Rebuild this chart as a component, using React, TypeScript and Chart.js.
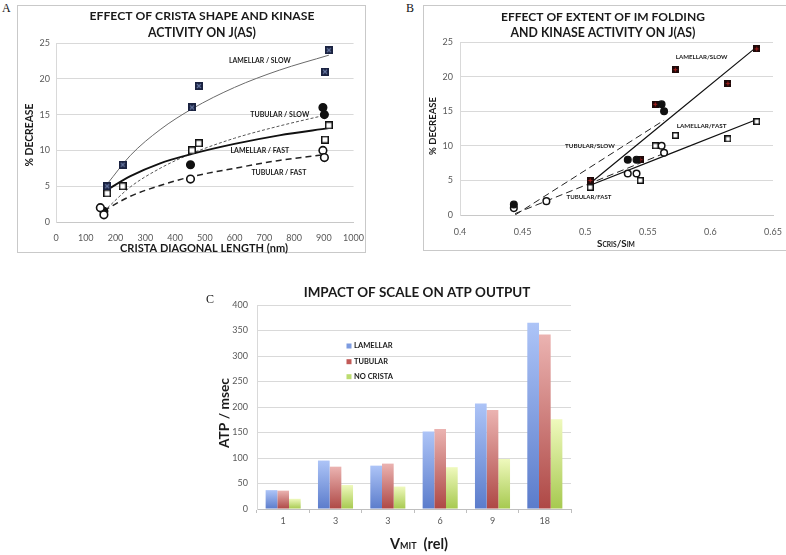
import React, { useEffect, useRef } from 'react';
import { Chart, registerables } from 'chart.js';
Chart.register(...registerables);

// ---------- Panel A data ----------
const A_LAM_X = [172, 224, 457, 480, 904, 917];
const A_LAM_SLOW_Y = [5, 8, 16, 19, 21, 24];
const A_LAM_FAST_Y = [4, 5, 10, 11, 11.5, 13.5];
const A_TUB_SLOW_X = [161, 452, 897, 902];
const A_TUB_SLOW_Y = [1.5, 8, 16, 15];
const A_TUB_FAST_X = [149, 161, 452, 897, 902];
const A_TUB_FAST_Y = [2, 1, 6, 10, 9];
// trend curves
const A_FIT_LAM_X = [172, 250, 350, 457, 600, 750, 917];
const A_FIT_LAM_SLOW = [5.3, 9.3, 12.9, 15.8, 18.8, 21.2, 23.3];
const A_FIT_LAM_FAST = [4.5, 6.4, 8.2, 9.5, 10.9, 12.1, 13.1];
const A_FIT_TUB_X = [161, 250, 350, 452, 600, 750, 902];
const A_FIT_TUB_SLOW = [1.5, 4.9, 7.5, 9.5, 11.7, 13.4, 14.9];
const A_FIT_TUB_FAST = [1.6, 3.6, 5.1, 6.3, 7.5, 8.6, 9.4];
const A_X_TICKS = [0, 100, 200, 300, 400, 500, 600, 700, 800, 900, 1000];
const A_Y_TICKS = [0, 5, 10, 15, 20, 25];

// ---------- Panel B data ----------
const B_LAM_X = [0.504, 0.544, 0.556, 0.572, 0.614, 0.637];
const B_LAM_SLOW_Y = [5, 8, 16, 21, 19, 24];
const B_LAM_FAST_Y = [4, 5, 10, 11.5, 11, 13.5];
const B_TUB_SLOW_X = [0.443, 0.534, 0.541, 0.561, 0.563];
const B_TUB_SLOW_Y = [1.5, 8, 8, 16, 15];
const B_TUB_FAST_X = [0.443, 0.469, 0.534, 0.541, 0.561, 0.563];
const B_TUB_FAST_Y = [1, 2, 6, 6, 10, 9];
const B_FIT_LAM_X = [0.504, 0.637];
const B_FIT_LAM_SLOW = [4.6, 24.3];
const B_FIT_LAM_FAST = [4.3, 13.8];
const B_FIT_TUB_X = [0.444, 0.563];
const B_FIT_TUB_SLOW = [0, 13.7];
const B_FIT_TUB_FAST = [0.2, 8.9];
const B_X_TICKS = [0.4, 0.45, 0.5, 0.55, 0.6, 0.65];
const B_Y_TICKS = [0, 5, 10, 15, 20, 25];

// ---------- Panel C data ----------
const C_CATS = ['1', '3', '3', '6', '9', '18'];
const C_LAM = [37, 95, 85, 152, 207, 365];
const C_TUB = [36, 83, 89, 157, 194, 342];
const C_NOC = [20, 47, 44, 82, 98, 176];
const C_SERIES = ['LAMELLAR', 'TUBULAR', 'NO CRISTA'];
const C_Y_TICKS = [0, 50, 100, 150, 200, 250, 300, 350, 400];

const FONT = 'Lato';
const pts = (xs: number[], ys: number[]) => xs.map((x, i) => ({ x, y: ys[i] }));

type Item = { t: string; x: number; y: number; w: number; rot?: boolean; data?: boolean; align?: CanvasTextAlign; color?: string };

function drawItems(chart: any, items: Item[]) {
  const ctx: CanvasRenderingContext2D = chart.ctx;
  ctx.save();
  for (const it of items) {
    let x = it.x, y = it.y;
    if (it.data) {
      x = chart.scales.x.getPixelForValue(it.x);
      y = chart.scales.y.getPixelForValue(it.y);
    }
    ctx.font = `bold 100px ${FONT}`;
    const m = ctx.measureText(it.t).width;
    const size = (100 * it.w) / m;
    ctx.font = `bold ${size}px ${FONT}`;
    ctx.fillStyle = it.color || '#1a1a1a';
    ctx.textAlign = it.align || 'center';
    ctx.textBaseline = 'middle';
    if (it.rot) {
      ctx.save();
      ctx.translate(x, y);
      ctx.rotate(-Math.PI / 2);
      ctx.fillText(it.t, 0, 0);
      ctx.restore();
    } else ctx.fillText(it.t, x, y);
  }
  ctx.restore();
}

function drawMixed(ctx: CanvasRenderingContext2D, parts: { t: string; big: boolean }[], cx: number, cy: number, w: number, ratio: number) {
  ctx.save();
  let total = 0;
  for (const p of parts) {
    ctx.font = `bold ${p.big ? 100 : 100 * ratio}px ${FONT}`;
    total += ctx.measureText(p.t).width;
  }
  const big = (100 * w) / total;
  let x = cx - w / 2;
  const base = cy + big * 0.36;
  ctx.fillStyle = '#1a1a1a';
  ctx.textAlign = 'left';
  ctx.textBaseline = 'alphabetic';
  for (const p of parts) {
    ctx.font = `bold ${p.big ? big : big * ratio}px ${FONT}`;
    ctx.fillText(p.t, x, base);
    x += ctx.measureText(p.t).width;
  }
  ctx.restore();
}

function markSquare(size: number, fill: string, line: string | null, plus: boolean, stroke?: string) {
  const c = document.createElement('canvas');
  c.width = size;
  c.height = size;
  const g = c.getContext('2d')!;
  g.fillStyle = fill;
  g.fillRect(0, 0, size, size);
  if (stroke) {
    g.strokeStyle = stroke;
    g.lineWidth = 1.5;
    g.strokeRect(0.75, 0.75, size - 1.5, size - 1.5);
  }
  if (line) {
    g.strokeStyle = line;
    g.lineWidth = 1.2;
    g.beginPath();
    if (plus) {
      g.moveTo(size / 2, 1.5); g.lineTo(size / 2, size - 1.5);
      g.moveTo(1.5, size / 2); g.lineTo(size - 1.5, size / 2);
    } else {
      g.moveTo(2, 2); g.lineTo(size - 2, size - 2);
      g.moveTo(size - 2, 2); g.lineTo(2, size - 2);
    }
    g.stroke();
  }
  return c;
}

function scatterOpts(p: any) {
  return {
    animation: false,
    responsive: false,
    events: [],
    layout: { padding: { left: 0, right: p.padRight, top: p.padTop, bottom: 0 } },
    plugins: { legend: { display: false }, tooltip: { enabled: false } },
    scales: {
      x: {
        type: 'linear',
        min: p.xTicks[0],
        max: p.xTicks[p.xTicks.length - 1],
        afterBuildTicks: (s: any) => { s.ticks = p.xTicks.map((v: number) => ({ value: v })); },
        afterFit: (s: any) => { s.height = p.xHeight; },
        grid: { display: false },
        border: { display: true, color: '#c8c8c8' },
        ticks: {
          font: { family: FONT, size: 9 }, color: '#595959', padding: p.xPad,
          maxRotation: 0, autoSkip: false,
          callback: (v: number) => String(+Number(v).toFixed(2)),
        },
      },
      y: {
        type: 'linear',
        min: p.yTicks[0],
        max: p.yTicks[p.yTicks.length - 1],
        afterBuildTicks: (s: any) => { s.ticks = p.yTicks.map((v: number) => ({ value: v })); },
        afterFit: (s: any) => { s.width = p.yWidth; },
        grid: { color: '#d9d9d9', drawTicks: false },
        border: { display: true, color: '#d9d9d9' },
        ticks: { font: { family: FONT, size: 9 }, color: '#595959', padding: p.yPad },
      },
    },
  };
}

export default function App() {
  const refA = useRef<HTMLCanvasElement>(null);
  const refB = useRef<HTMLCanvasElement>(null);
  const refC = useRef<HTMLCanvasElement>(null);

  useEffect(() => {
    Chart.defaults.font.family = FONT;
    const charts: Chart[] = [];

    // ---------- Panel A ----------
    const aLamSlow = markSquare(8, '#1a2240', '#6576a0', false);
    const aLamFast = markSquare(8, '#ffffff', null, false, '#111111');
    const aItems: Item[] = [
      { t: 'EFFECT OF CRISTA SHAPE AND KINASE', x: 185, y: 11, w: 225 },
      { t: 'ACTIVITY ON J(AS)', x: 185, y: 28, w: 108 },
      { t: '% DECREASE', x: 13, y: 130, w: 63, rot: true },
      { t: 'CRISTA DIAGONAL LENGTH (nm)', x: 187, y: 243, w: 168 },
      { t: 'LAMELLAR / SLOW', x: 685, y: 22.5, w: 62, data: true },
      { t: 'TUBULAR / SLOW', x: 752, y: 14.95, w: 59, data: true },
      { t: 'LAMELLAR / FAST', x: 685, y: 9.9, w: 59, data: true },
      { t: 'TUBULAR / FAST', x: 749, y: 6.9, w: 55, data: true },
    ];
    const line = (data: any, color: string, width: number, dash: number[] = []) => ({
      data, showLine: true, pointRadius: 0, borderColor: color, borderWidth: width,
      borderDash: dash, cubicInterpolationMode: 'monotone', order: 2, fill: false,
    });
    const cA = new Chart(refA.current!, {
      type: 'scatter',
      data: {
        datasets: [
          line(pts(A_FIT_LAM_X, A_FIT_LAM_SLOW), '#6a6a6a', 1),
          line(pts(A_FIT_LAM_X, A_FIT_LAM_FAST), '#111111', 1.8),
          line(pts(A_FIT_TUB_X, A_FIT_TUB_SLOW), '#555555', 1, [3, 2]),
          line(pts(A_FIT_TUB_X, A_FIT_TUB_FAST), '#222222', 1.5, [6, 4]),
          { data: pts(A_LAM_X, A_LAM_SLOW_Y), pointStyle: aLamSlow, pointRadius: 5, order: 1 },
          { data: pts(A_LAM_X, A_LAM_FAST_Y), pointStyle: aLamFast, pointRadius: 5, order: 1 },
          { data: pts(A_TUB_SLOW_X, A_TUB_SLOW_Y), pointStyle: 'circle', pointRadius: 3.8, pointBackgroundColor: '#111', pointBorderColor: '#111', pointBorderWidth: 1.5, order: 1 },
          { data: pts(A_TUB_FAST_X, A_TUB_FAST_Y), pointStyle: 'circle', pointRadius: 3.8, pointBackgroundColor: '#fff', pointBorderColor: '#111', pointBorderWidth: 1.6, order: 0 },
        ] as any,
      },
      options: scatterOpts({ xTicks: A_X_TICKS, yTicks: A_Y_TICKS, padRight: 13, padTop: 38, yWidth: 39, xHeight: 32, xPad: 3, yPad: 6 }) as any,
      plugins: [{ id: 'txtA', afterDraw: (ch: any) => drawItems(ch, aItems) }],
    });
    charts.push(cA);

    // ---------- Panel B ----------
    const bLamSlow = markSquare(7, '#1e0a0a', '#a3201f', true);
    const bLamFast = markSquare(7, '#ffffff', null, false, '#111111');
    const bItems: Item[] = [
      { t: 'EFFECT OF EXTENT OF IM FOLDING', x: 180, y: 12, w: 204 },
      { t: 'AND KINASE ACTIVITY ON J(AS)', x: 180, y: 28, w: 185 },
      { t: '% DECREASE', x: 10, y: 121, w: 58, rot: true },
      { t: 'LAMELLAR/SLOW', x: 0.593, y: 22.8, w: 52, data: true },
      { t: 'LAMELLAR/FAST', x: 0.593, y: 12.8, w: 50, data: true },
      { t: 'TUBULAR/SLOW', x: 0.5038, y: 9.95, w: 50, data: true },
      { t: 'TUBULAR/FAST', x: 0.503, y: 2.57, w: 45, data: true },
    ];
    const cB = new Chart(refB.current!, {
      type: 'scatter',
      data: {
        datasets: [
          line(pts(B_FIT_LAM_X, B_FIT_LAM_SLOW), '#111111', 1.2),
          line(pts(B_FIT_LAM_X, B_FIT_LAM_FAST), '#111111', 1.2),
          line(pts(B_FIT_TUB_X, B_FIT_TUB_SLOW), '#222222', 1, [7, 4]),
          line(pts(B_FIT_TUB_X, B_FIT_TUB_FAST), '#222222', 1, [7, 4]),
          { data: pts(B_LAM_X, B_LAM_FAST_Y), pointStyle: bLamFast, pointRadius: 5, order: 1 },
          { data: pts(B_TUB_FAST_X, B_TUB_FAST_Y), pointStyle: 'circle', pointRadius: 3.3, pointBackgroundColor: '#fff', pointBorderColor: '#111', pointBorderWidth: 1.5, order: 1 },
          { data: pts(B_TUB_SLOW_X, B_TUB_SLOW_Y), pointStyle: 'circle', pointRadius: 3.4, pointBackgroundColor: '#111', pointBorderColor: '#111', pointBorderWidth: 1.2, order: 0 },
          { data: pts(B_LAM_X, B_LAM_SLOW_Y), pointStyle: bLamSlow, pointRadius: 5, order: 0 },
        ] as any,
      },
      options: scatterOpts({ xTicks: B_X_TICKS, yTicks: B_Y_TICKS, padRight: 13, padTop: 37, yWidth: 37, xHeight: 36, xPad: 4, yPad: 7 }) as any,
      plugins: [{
        id: 'txtB',
        afterDraw: (ch: any) => {
          drawItems(ch, bItems);
          drawMixed(ch.ctx, [
            { t: 'S', big: true }, { t: 'CRIS', big: false }, { t: '/', big: true },
            { t: 'S', big: true }, { t: 'IM', big: false },
          ], 193, 238, 38, 0.68);
        },
      }],
    });
    charts.push(cB);

    // ---------- Panel C ----------
    const grad = (top: string, bot: string) => (ctx: any) => {
      const ch = ctx.chart;
      if (!ch.chartArea || ctx.type !== 'data') return bot;
      const ys = ch.scales.y;
      const v = ctx.parsed ? ctx.parsed.y : ctx.raw;
      const y0 = ys.getPixelForValue(v);
      const y1 = ys.getPixelForValue(0);
      if (!isFinite(y0) || !isFinite(y1) || y0 === y1) return bot;
      const g = ch.ctx.createLinearGradient(0, y0, 0, y1);
      g.addColorStop(0, top);
      g.addColorStop(1, bot);
      return g;
    };
    const legendColors = ['#7d9be0', '#c25a57', '#bcdc70'];
    const cC = new Chart(refC.current!, {
      type: 'bar',
      data: {
        labels: C_CATS,
        datasets: [
          { label: C_SERIES[0], data: C_LAM, backgroundColor: grad('#adc4f7', '#5b7ccb') },
          { label: C_SERIES[1], data: C_TUB, backgroundColor: grad('#ebb3b1', '#ae4845') },
          { label: C_SERIES[2], data: C_NOC, backgroundColor: grad('#eff9bd', '#a6c94f') },
        ] as any,
      },
      options: {
        animation: false,
        responsive: false,
        events: [],
        datasets: { bar: { categoryPercentage: 0.67, barPercentage: 1, borderWidth: 0 } },
        layout: { padding: { left: 0, right: 29, top: 35, bottom: 0 } },
        plugins: { legend: { display: false }, tooltip: { enabled: false } },
        scales: {
          x: {
            afterFit: (s: any) => { s.height = 46; },
            grid: { display: true, drawOnChartArea: false, drawTicks: true, tickLength: 4, color: '#bfbfbf', offset: true },
            border: { display: true, color: '#bfbfbf' },
            ticks: { font: { family: FONT, size: 9 }, color: '#595959', padding: 3, maxRotation: 0, autoSkip: false },
          },
          y: {
            min: 0,
            max: 400,
            afterBuildTicks: (s: any) => { s.ticks = C_Y_TICKS.map((v) => ({ value: v })); },
            afterFit: (s: any) => { s.width = 57; },
            grid: { color: '#d9d9d9', drawTicks: false },
            border: { display: true, color: '#d9d9d9' },
            ticks: { font: { family: FONT, size: 9 }, color: '#595959', padding: 9 },
          },
        },
      } as any,
      plugins: [{
        id: 'txtC',
        afterDraw: (ch: any) => {
          drawItems(ch, [
            { t: 'IMPACT OF SCALE ON ATP OUTPUT', x: 217, y: 23, w: 227 },
            { t: 'ATP / msec', x: 25, y: 143, w: 70, rot: true },
          ]);
          drawMixed(ch.ctx, [{ t: 'V', big: true }, { t: 'MIT', big: false }, { t: '  (rel)', big: true }], 219, 274, 58, 0.62);
          const ctx = ch.ctx as CanvasRenderingContext2D;
          const ys = [76, 91.7, 106.7];
          const ws = [38.7, 34, 39];
          ch.data.datasets.forEach((d: any, i: number) => {
            ctx.fillStyle = legendColors[i];
            ctx.fillRect(146.5, ys[i] - 2.5, 5, 5);
          });
          drawItems(ch, ch.data.datasets.map((d: any, i: number) => ({ t: d.label, x: 154, y: ys[i], w: ws[i], align: 'left' })));
        },
      }],
    });
    charts.push(cC);

    return () => charts.forEach((c) => c.destroy());
  }, []);

  const letter: React.CSSProperties = {
    position: 'absolute', fontFamily: '"Liberation Serif", serif', fontSize: 12, lineHeight: '12px', color: '#111',
  };
  return (
    <div style={{ position: 'fixed', left: 0, top: 0, width: 786, height: 555, overflow: 'hidden', background: '#fff' }}>
      <div style={{ position: 'absolute', left: 17, top: 5, width: 349, height: 248, border: '1px solid #c9c9c9', boxSizing: 'border-box' }} />
      <div style={{ position: 'absolute', left: 423, top: 5, width: 420, height: 246, border: '1px solid #c9c9c9', boxSizing: 'border-box' }} />
      <canvas ref={refA} width={350} height={249} style={{ position: 'absolute', left: 17, top: 5, width: 350, height: 249 }} />
      <canvas ref={refB} width={363} height={246} style={{ position: 'absolute', left: 423, top: 5, width: 363, height: 246 }} />
      <canvas ref={refC} width={400} height={285} style={{ position: 'absolute', left: 200, top: 270, width: 400, height: 285 }} />
      <div style={{ ...letter, left: 2, top: 2 }}>A</div>
      <div style={{ ...letter, left: 406, top: 2 }}>B</div>
      <div style={{ ...letter, left: 206, top: 293 }}>C</div>
    </div>
  );
}
